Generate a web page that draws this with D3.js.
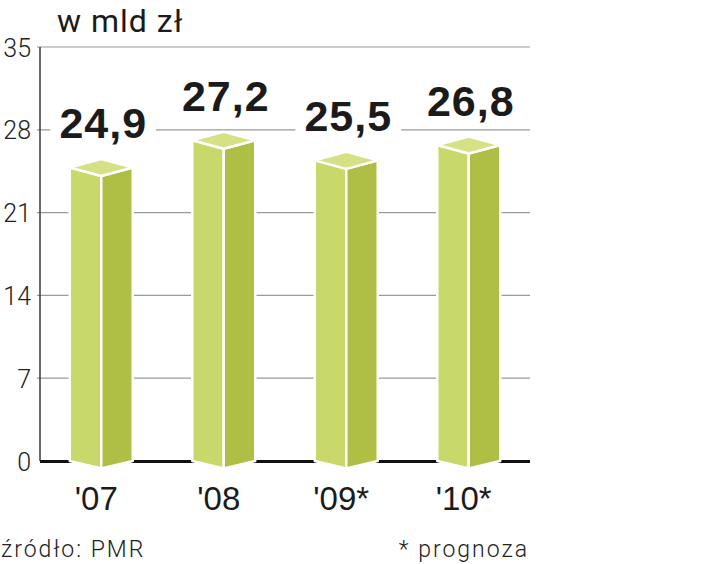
<!DOCTYPE html>
<html><head><meta charset="utf-8">
<script src="https://cdn.jsdelivr.net/npm/d3@7"></script>
<style>
html,body{margin:0;padding:0;background:#fff;}
svg{display:block;}
</style>
</head><body>
<svg id="chart" width="720" height="564"></svg>
<script>
const categories = ["'07", "'08", "'09*", "'10*"];
const values = [24.9, 27.2, 25.5, 26.8];
const valueLabels = ["24,9", "27,2", "25,5", "26,8"];
const yTicks = [0, 7, 14, 21, 28, 35];
const unitLabel = "w mld zł";
const sourceLabel = "źródło: PMR";
const noteLabel = "* prognoza";

(function () {
const svg = d3.select("#chart");
const mLeft = 40, mRight = 530, mBottom = 461, mTop = 47;
const x = d3.scaleBand().domain(categories).range([mLeft, mRight]);
const y = d3.scaleLinear().domain([0, 35]).range([mBottom, mTop]);

// gridlines
const grid = svg.append("g");
grid.selectAll("line").data(yTicks.filter(d => d > 0)).join("line")
  .attr("x1", mLeft - 3).attr("x2", mRight)
  .attr("y1", d => y(d)).attr("y2", d => y(d))
  .attr("stroke", "#9a9a9a").attr("stroke-width", 1.2);

// y axis tick labels
const yAxis = d3.axisLeft(y).tickValues(yTicks).tickSize(0).tickPadding(9);
const ya = svg.append("g").attr("transform", `translate(${mLeft},0)`).call(yAxis);
ya.select(".domain").remove();
ya.selectAll("text")
  .attr("font-family", "Roboto, 'Liberation Sans', sans-serif")
  .attr("font-weight", 300)
  .attr("font-size", 25)
  .attr("fill", "#222")
  .attr("dy", "0.36em");

// axis line
svg.append("line").attr("x1", mLeft).attr("x2", mLeft).attr("y1", mTop).attr("y2", mBottom)
  .attr("stroke", "#3a3a3a").attr("stroke-width", 1.5);

// baseline
svg.append("line").attr("x1", mLeft).attr("x2", mRight).attr("y1", y(0) + 0.5).attr("y2", y(0) + 0.5)
  .attr("stroke", "#111").attr("stroke-width", 3);

const hw = 31.5, dep = 8.5;
const cx = d => x(d) + x.bandwidth() / 2;

// value labels with white backing
const lab = svg.append("g");
categories.forEach((c, i) => {
  const bx = cx(c) + 2, by = y(values[i]) - 28;
  const t = lab.append("text")
    .attr("x", bx).attr("y", by)
    .attr("text-anchor", "middle")
    .attr("font-family", "'Liberation Sans', Arial, sans-serif")
    .attr("font-weight", "bold")
    .attr("font-size", 43)
    .attr("letter-spacing", 1)
    .attr("fill", "#1b1b1b")
    .text(valueLabels[i]);
  const bb = t.node().getBBox();
  lab.insert("rect", "text")
    .attr("x", bb.x - 9).attr("y", bb.y).attr("width", bb.width + 18).attr("height", bb.height + 2)
    .attr("fill", "#fff");
});

// bars (3D prisms)
const bars = svg.append("g");
categories.forEach((c, i) => {
  const m = cx(c);
  const yt = y(values[i]) + 1;
  const y0 = y(0);
  const g = bars.append("g");
  g.append("path")
    .attr("d", `M${m - hw},${yt} L${m},${yt + dep} L${m},${y0 + dep - 1} L${m - hw},${y0} Z`)
    .attr("fill", "#c8d86a").attr("stroke", "#fff").attr("stroke-width", 2.5).attr("stroke-linejoin", "round");
  g.append("path")
    .attr("d", `M${m},${yt + dep} L${m + hw},${yt} L${m + hw},${y0} L${m},${y0 + dep - 1} Z`)
    .attr("fill", "#afbe45").attr("stroke", "#fff").attr("stroke-width", 2.5).attr("stroke-linejoin", "round");
  g.append("path")
    .attr("d", `M${m - hw},${yt} L${m},${yt - dep} L${m + hw},${yt} L${m},${yt + dep} Z`)
    .attr("fill", "#d5e184").attr("stroke", "#fff").attr("stroke-width", 2.5).attr("stroke-linejoin", "round");
});

// category labels
svg.append("g").selectAll("text").data(categories).join("text")
  .attr("x", d => cx(d) - 5).attr("y", 510)
  .attr("text-anchor", "middle")
  .attr("font-family", "'Liberation Sans', Arial, sans-serif")
  .attr("font-size", 33)
  .attr("fill", "#1b1b1b")
  .text(d => d);

// title
svg.append("text").attr("x", 57).attr("y", 32)
  .attr("font-family", "Roboto, 'Liberation Sans', sans-serif")
  .attr("font-size", 32)
  .attr("letter-spacing", 1)
  .attr("fill", "#1b1b1b")
  .text(unitLabel);

// footer
svg.append("text").attr("x", 1).attr("y", 557)
  .attr("font-family", "Roboto, 'Liberation Sans', sans-serif")
  .attr("font-weight", 300)
  .attr("font-size", 23)
  .attr("letter-spacing", 2)
  .attr("fill", "#222")
  .text(sourceLabel);
svg.append("text").attr("x", 529).attr("y", 557)
  .attr("text-anchor", "end")
  .attr("font-family", "Roboto, 'Liberation Sans', sans-serif")
  .attr("font-weight", 300)
  .attr("font-size", 23)
  .attr("letter-spacing", 2)
  .attr("fill", "#222")
  .text(noteLabel);
})();
</script>
</body></html>
